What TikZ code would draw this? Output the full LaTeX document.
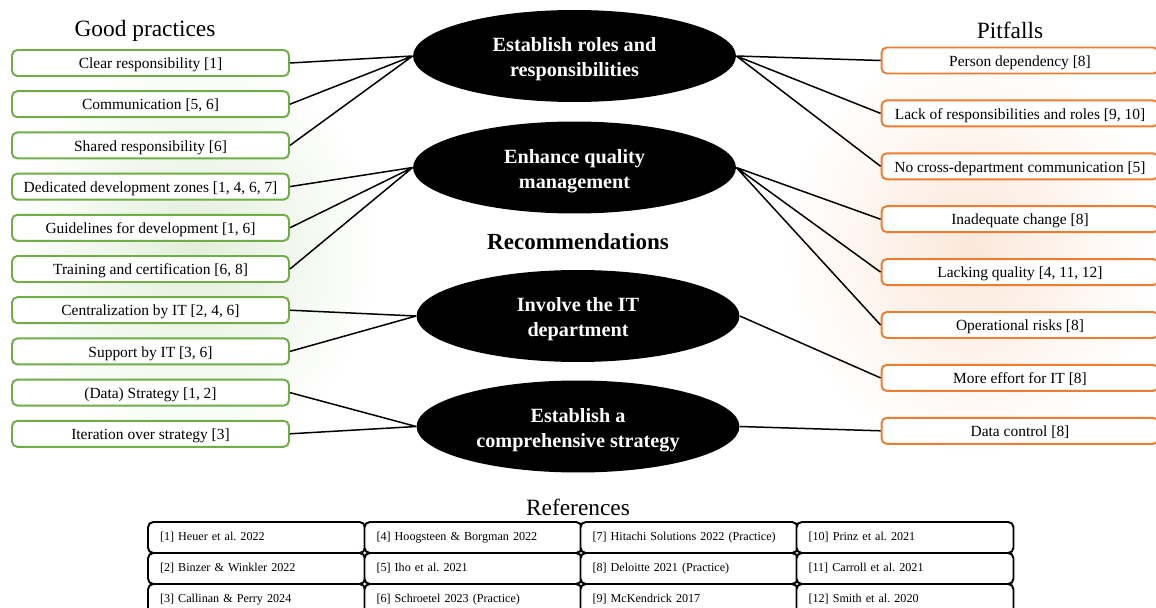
\documentclass[tikz,border=0pt]{standalone}
\usepackage{fontspec}
\setmainfont{Liberation Serif}
\usepackage{xcolor}
\usepackage{tikz}
\usetikzlibrary{shapes.geometric}
\frenchspacing
\definecolor{goodgreen}{HTML}{70AD47}
\definecolor{pitorange}{HTML}{ED7D31}
\tikzset{good/.style={draw=goodgreen, line width=1.1pt, rounded corners=3pt, fill=white,
        minimum width=5.54cm, minimum height=0.52cm, inner sep=0pt,
        text height=0.8em, text depth=0.14em, font=\fontsize{8.8}{9}\selectfont},
    pit/.style={good, draw=pitorange},
    rec/.style={ellipse, fill=black, text=white, minimum width=6.46cm, minimum height=1.84cm,
        inner sep=0pt, align=center, font=\fontsize{11.5}{14.2}\selectfont\bfseries},
    refcell/.style={draw, line width=1.1pt, rounded corners=3pt, fill=white,
        minimum height=0.62cm, text width=3.86cm, inner xsep=0.24cm, align=left,
        font=\fontsize{6.9}{8}\selectfont},
    heading/.style={font=\fontsize{13.3}{15}\selectfont},
    link/.style={line width=0.85pt}}
\newcommand{\recstrut}{\rule{0pt}{12pt}}

\begin{document}
\begin{tikzpicture}[x=0.02cm, y=-0.02cm]
        \useasboundingbox (0,0) rectangle (1156,608);
        \shade[inner color=goodgreen!20, outer color=white] (8,45) rectangle (380,455);
        \shade[inner color=pitorange!18, outer color=white] (785,43) rectangle (1156,455);

        \node[heading] (gphead) at (145,31) {Good practices};
        \node[heading] (pfhead) at (1010,30) {Pitfalls};
        \node[heading, font=\fontsize{13.1}{15}\selectfont\bfseries] (rechead) at (578,242) {Recommendations};
        \node[heading] (refhead) at (578,507) {References};

        \node[good] (gp1) at (150.5,63) {Clear responsibility [1]};
        \node[good] (gp2) at (150.5,104.2) {Communication [5, 6]};
        \node[good] (gp3) at (150.5,145.4) {Shared responsibility [6]};
        \node[good] (gp4) at (150.5,186.6) {Dedicated development zones [1, 4, 6, 7]};
        \node[good] (gp5) at (150.5,227.8) {Guidelines for development [1, 6]};
        \node[good] (gp6) at (150.5,269) {Training and certification [6, 8]};
        \node[good] (gp7) at (150.5,310.2) {Centralization by IT [2, 4, 6]};
        \node[good] (gp8) at (150.5,351.4) {Support by IT [3, 6]};
        \node[good] (gp9) at (150.5,392.6) {(Data) Strategy [1, 2]};
        \node[good] (gp10) at (150.5,433.8) {Iteration over strategy [3]};

        \node[pit] (pf1) at (1020,60.5) {Person dependency [8]};
        \node[pit] (pf2) at (1020,113.4) {Lack of responsibilities and roles [9, 10]};
        \node[pit] (pf3) at (1020,166.3) {No cross-department communication [5]};
        \node[pit] (pf4) at (1020,219.2) {Inadequate change [8]};
        \node[pit] (pf5) at (1020,272.1) {Lacking quality [4, 11, 12]};
        \node[pit] (pf6) at (1020,325) {Operational risks [8]};
        \node[pit] (pf7) at (1020,377.9) {More effort for IT [8]};
        \node[pit] (pf8) at (1020,430.8) {Data control [8]};

        \node[rec] (rec1) at (574.5,56) {\recstrut Establish roles and\\responsibilities};
        \node[rec] (rec2) at (574.5,167.5) {\recstrut Enhance quality\\management};
        \node[rec] (rec3) at (578,316) {\recstrut Involve the IT\\department};
        \node[rec] (rec4) at (578,426.5) {\recstrut Establish a\\comprehensive strategy};

        \draw[link] (gp1.east) -- (rec1.west) (gp2.east) -- (rec1.west) (gp3.east) -- (rec1.west);
        \draw[link] (gp4.east) -- (rec2.west) (gp5.east) -- (rec2.west) (gp6.east) -- (rec2.west);
        \draw[link] (gp7.east) -- (rec3.west) (gp8.east) -- (rec3.west);
        \draw[link] (gp9.east) -- (rec4.west) (gp10.east) -- (rec4.west);
        \draw[link] (rec1.east) -- (pf1.west) (rec1.east) -- (pf2.west) (rec1.east) -- (pf3.west);
        \draw[link] (rec2.east) -- (pf4.west) (rec2.east) -- (pf5.west) (rec2.east) -- (pf6.west);
        \draw[link] (rec3.east) -- (pf7.west);
        \draw[link] (rec4.east) -- (pf8.west);

        \node[refcell] (ref1) at (256.5,537.5) {[1] Heuer et al. 2022};
        \node[refcell] (ref2) at (256.5,568.5) {[2] Binzer \& Winkler 2022};
        \node[refcell] (ref3) at (256.5,599.5) {[3] Callinan \& Perry 2024};
        \node[refcell] (ref4) at (473,537.5) {[4] Hoogsteen \& Borgman 2022};
        \node[refcell] (ref5) at (473,568.5) {[5] Iho et al. 2021};
        \node[refcell] (ref6) at (473,599.5) {[6] Schroetel 2023 (Practice)};
        \node[refcell] (ref7) at (689,537.5) {[7] Hitachi Solutions 2022 (Practice)};
        \node[refcell] (ref8) at (689,568.5) {[8] Deloitte 2021 (Practice)};
        \node[refcell] (ref9) at (689,599.5) {[9] McKendrick 2017};
        \node[refcell] (ref10) at (905,537.5) {[10] Prinz et al. 2021};
        \node[refcell] (ref11) at (905,568.5) {[11] Carroll et al. 2021};
        \node[refcell] (ref12) at (905,599.5) {[12] Smith et al. 2020};
    \end{tikzpicture}
\end{document}
